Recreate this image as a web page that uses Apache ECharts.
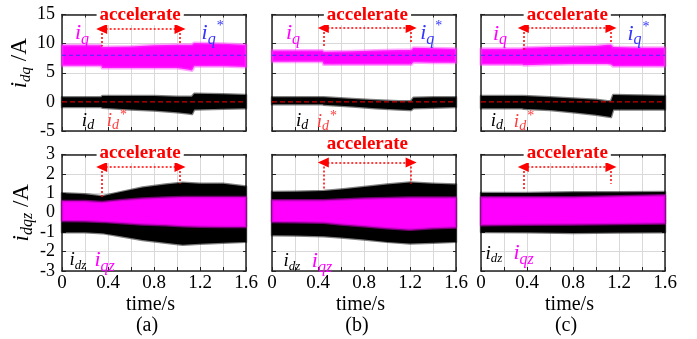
<!DOCTYPE html>
<html><head><meta charset="utf-8">
<script src="https://cdn.jsdelivr.net/npm/echarts@6/dist/echarts.min.js"></script>
<style>html,body{margin:0;padding:0;background:#fff}#c{width:697px;height:339px}</style>
</head><body><div id="c"></div>
<script>
// ================= DATA =================
const panelNames = ['(a)', '(b)', '(c)'];
const xTickLabels = ['0', '0.4', '0.8', '1.2', '1.6'];
const iqRef = 8;   // i_q* reference (A)
const idRef = 0;   // i_d* reference (A)
const accelStart = [0.345, 0.446, 0.368];
const accelEnd = [1.026, 1.21, 1.13];

// ---- top row: i_q / i_d envelopes (A) ----
const tTopA = [0, 0.34, 0.35, 0.6, 0.8, 1.0, 1.1, 1.13, 1.15, 1.4, 1.6];
const iqUpA = [9.7, 9.7, 9.4, 9.5, 9.7, 9.8, 9.8, 9.8, 10.1, 10.0, 9.8];
const iqLoA = [6.2, 6.2, 5.8, 5.8, 5.8, 5.8, 5.5, 5.4, 6.1, 6.1, 6.0];
const idUpA = [0.8, 0.8, 1.0, 1.0, 1.0, 0.9, 0.9, 0.9, 1.4, 1.3, 1.2];
const idLoA = [-0.9, -0.9, -1.0, -1.3, -1.5, -1.8, -2.0, -2.1, -1.3, -1.2, -1.1];

const tTopB = [0, 0.44, 0.45, 0.7, 0.9, 1.1, 1.2, 1.21, 1.23, 1.4, 1.6];
const iqUpB = [8.8, 8.8, 8.6, 8.7, 8.8, 8.9, 8.9, 8.9, 9.3, 9.2, 9.1];
const iqLoB = [6.9, 6.9, 6.4, 6.4, 6.4, 6.4, 6.4, 6.4, 6.8, 6.7, 6.7];
const idUpB = [0.8, 0.8, 0.8, 0.5, 0.3, 0.1, 0.1, 0.1, 0.7, 0.8, 0.8];
const idLoB = [-0.4, -0.4, -0.5, -0.8, -1.1, -1.3, -1.4, -1.4, -1.1, -1.0, -0.9];

const tTopC = [0, 0.36, 0.37, 0.6, 0.8, 1.0, 1.1, 1.13, 1.15, 1.4, 1.6];
const iqUpC = [9.1, 9.1, 9.3, 9.4, 9.5, 9.6, 9.8, 9.8, 9.4, 9.3, 9.3];
const iqLoC = [6.4, 6.4, 6.3, 6.4, 6.5, 6.5, 6.5, 6.4, 6.1, 6.1, 6.1];
const idUpC = [1.0, 1.0, 1.0, 0.8, 0.6, 0.35, 0.1, 0.1, 1.2, 1.1, 1.0];
const idLoC = [-1.1, -1.1, -1.2, -1.4, -1.8, -2.2, -2.5, -2.6, -1.3, -1.3, -1.3];

// ---- bottom row: i_dz / i_qz envelopes (A) ----
const tBotA = [0, 0.2, 0.35, 0.5, 0.7, 0.9, 1.05, 1.2, 1.4, 1.6];
const idzUpA = [1.0, 0.95, 0.85, 1.05, 1.3, 1.45, 1.55, 1.5, 1.5, 1.35];
const idzLoA = [-1.0, -1.0, -1.05, -1.2, -1.4, -1.55, -1.65, -1.6, -1.55, -1.5];
const iqzUpA = [0.6, 0.6, 0.56, 0.65, 0.73, 0.78, 0.81, 0.81, 0.81, 0.81];
const iqzLoA = [-0.42, -0.44, -0.47, -0.53, -0.6, -0.65, -0.7, -0.72, -0.73, -0.73];

const tBotB = [0, 0.2, 0.45, 0.6, 0.8, 1.0, 1.2, 1.4, 1.6];
const idzUpB = [1.07, 1.08, 1.12, 1.2, 1.33, 1.45, 1.56, 1.5, 1.45];
const idzLoB = [-1.16, -1.17, -1.21, -1.28, -1.38, -1.5, -1.59, -1.55, -1.5];
const iqzUpB = [0.64, 0.64, 0.64, 0.68, 0.73, 0.76, 0.78, 0.78, 0.78];
const iqzLoB = [-0.47, -0.49, -0.52, -0.6, -0.7, -0.8, -0.87, -0.8, -0.76];

const tBotC = [0, 0.4, 0.8, 1.2, 1.6];
const idzUpC = [1.02, 1.02, 1.05, 1.06, 1.07];
const idzLoC = [-0.99, -1.0, -1.04, -1.02, -1.0];
const iqzUpC = [0.8, 0.8, 0.8, 0.85, 0.9];
const iqzLoC = [-0.64, -0.62, -0.6, -0.58, -0.56];

// ================= LAYOUT / STYLE =================
const F = "'Liberation Serif','Times New Roman',serif";
const MAG = '#ff00ff', BLUE = '#3434ff', RED = '#ff0000', RED2 = '#ff3a3a';
const gridLeft = [62, 272, 481];
const rowTop = [14.5, 154.5];
const GW = 184, GH = 116.5;

const tTop = [tTopA, tTopB, tTopC];
const iqUp = [iqUpA, iqUpB, iqUpC], iqLo = [iqLoA, iqLoB, iqLoC];
const idUp = [idUpA, idUpB, idUpC], idLo = [idLoA, idLoB, idLoC];
const tBot = [tBotA, tBotB, tBotC];
const idzUp = [idzUpA, idzUpB, idzUpC], idzLo = [idzLoA, idzLoB, idzLoC];
const iqzUp = [iqzUpA, iqzUpB, iqzUpC], iqzLo = [iqzLoA, iqzLoB, iqzLoC];

// annotation placement (data coordinates of each panel)
const accelTextX = [0.68, 0.83, 0.75];
const arrowYTop = [12.5, 12.7, 12.7];
const vEndTop = [[9.5, 9.8], [9.3, 10.1], [8.7, 10.1]];
const arrowYBot = [2.36, 2.59, 2.36];
const vEndBot = [[0.81, 1.5], [1.16, 1.5], [1.16, 1.5]];
const accelOffBot = [-1, -10, -1];
const iqPos = [[0.174, 12.8], [0.183, 12.8], [0.165, 12.65]];
const iqStarPos = [[1.31, 12.8], [1.385, 12.8], [1.37, 12.65]];
const idPos = [[0.226, -2.3], [0.261, -2.3], [0.139, -2.3]];
const idStarPos = [[0.478, -2.3], [0.478, -2.45], [0.374, -2.45]];
const idzPos = [[0.139, -2.15], [0.174, -2.2], [0.113, -1.8]];
const iqzPos = [[0.37, -2.15], [0.435, -2.2], [0.37, -1.8]];

function richSet(color, m, s) {
  return {
    m: {fontFamily: F, fontStyle: 'italic', fontSize: m, lineHeight: m, color, verticalAlign: 'top', padding: [6, 0, 0, 0]},
    s: {fontFamily: F, fontStyle: 'italic', fontSize: s, lineHeight: s, color, verticalAlign: 'top', padding: [Math.round(6 + 0.75 * m - s / 2), 0, 0, 0]},
    p: {fontFamily: F, fontSize: 14, lineHeight: 14, color, verticalAlign: 'top', padding: [3, 0, 0, 1]}
  };
}
function lbl(coord, formatter, rich, offset) {
  return {coord, symbolSize: 0, itemStyle: {color: 'transparent'},
    label: {show: true, position: 'inside', formatter, rich, offset: offset || [0, 0]}};
}
function accelLbl(coord, offset) {
  return {coord, symbolSize: 0, itemStyle: {color: 'transparent'},
    label: {show: true, position: 'inside', formatter: 'accelerate', fontFamily: F, fontWeight: 'bold',
      fontSize: 19, color: RED, backgroundColor: '#fff', padding: [0, 3, 0, 3], offset: offset || [0, 0]}};
}

function bandSeries(g, t, lo, up, color, fringe, fw, z) {
  return {
    type: 'custom', xAxisIndex: 2 * g, yAxisIndex: 2 * g, z, silent: true,
    data: t.map((x, i) => [x, lo[i], up[i]]),
    encode: {x: 0, y: [1, 2]},
    renderItem(params, api) {
      if (params.dataIndex !== 0) return null;
      const pts = [];
      for (let i = 0; i < t.length; i++) pts.push(api.coord([t[i], up[i]]));
      for (let i = t.length - 1; i >= 0; i--) pts.push(api.coord([t[i], lo[i]]));
      return {type: 'polygon', shape: {points: pts}, style: {fill: color, stroke: fringe, lineWidth: fw, lineJoin: 'round'}};
    }
  };
}

const grids = [], xAxes = [], yAxes = [], series = [];
for (let g = 0; g < 6; g++) {
  const r = g < 3 ? 0 : 1, c = g % 3;
  grids.push({left: gridLeft[c], top: rowTop[r], width: GW, height: GH, show: false});
  const frameLine = {show: true, onZero: false, lineStyle: {color: '#222', width: 1.5}};
  xAxes.push({
    gridIndex: g, type: 'value', position: 'bottom', min: 0, max: 1.6, interval: 0.2,
    axisLine: frameLine,
    axisTick: {show: true, inside: true, length: 4, lineStyle: {color: '#222'}},
    splitLine: {show: true, lineStyle: {color: '#d9d9d9', width: 1}},
    axisLabel: {show: r === 1, margin: 3, fontSize: 19, color: '#000', fontFamily: F,
      formatter: v => { const s = String(+v.toFixed(1)); return xTickLabels.includes(s) ? s : ''; }},
    name: r === 1 ? '{t|time/s}\n{p|' + panelNames[c] + '}' : '',
    nameLocation: 'middle', nameGap: 23,
    nameTextStyle: {rich: {
      t: {fontFamily: F, fontSize: 20, lineHeight: 21, color: '#000', padding: [0, 7, 0, 0]},
      p: {fontFamily: F, fontSize: 20, lineHeight: 21, color: '#000', padding: [0, 14, 0, 0]}
    }}
  });
  xAxes.push({
    gridIndex: g, type: 'value', position: 'top', min: 0, max: 1.6, interval: 0.2,
    axisLine: frameLine, axisTick: {show: true, inside: true, length: 3, lineStyle: {color: '#222'}},
    axisLabel: {show: false}, splitLine: {show: false}
  });
  const yr = r === 0 ? {min: -5, max: 15, interval: 5} : {min: -3, max: 3, interval: 1};
  yAxes.push(Object.assign({
    gridIndex: g, type: 'value', position: 'left',
    axisLine: frameLine,
    axisTick: {show: true, inside: true, length: 4, lineStyle: {color: '#222'}},
    splitLine: {show: true, lineStyle: {color: '#d9d9d9', width: 1}},
    axisLabel: {show: c === 0, margin: 7, fontSize: 18, color: '#000', fontFamily: F},
    name: c === 0 ? (r === 0 ? '{m|i}{s|dq}{n| /A}' : '{m|i}{s|dqz}{n| /A}') : '',
    nameLocation: 'middle', nameRotate: 90, nameGap: 29,
    nameTextStyle: {padding: r === 0 ? [0, 0, 0, 19] : [0, 0, 0, 0], rich: {
      m: {fontFamily: F, fontStyle: 'italic', fontSize: 23, lineHeight: 23, color: '#000', verticalAlign: 'top'},
      s: {fontFamily: F, fontStyle: 'italic', fontSize: r === 0 ? 15 : 16, lineHeight: 16, color: '#000', verticalAlign: 'top', padding: [10, 0, 0, 0]},
      n: {fontFamily: F, fontSize: 23, lineHeight: 23, color: '#000', verticalAlign: 'top'}
    }}
  }, yr));
  yAxes.push(Object.assign({
    gridIndex: g, type: 'value', position: 'right',
    axisLine: frameLine, axisTick: {show: true, inside: true, length: 3, lineStyle: {color: '#222'}},
    axisLabel: {show: false}, splitLine: {show: false}
  }, yr));

  // ---- data series ----
  const xi = 2 * g, yi = 2 * g;
  let annoPoints, annoLines;
  const s0 = accelStart[c], e0 = accelEnd[c];
  const lineCfg = (ay, v0, v1) => [
    [{coord: [s0, ay], symbol: 'triangle', symbolSize: [10, 11]}, {coord: [e0, ay], symbol: 'triangle', symbolSize: [10, 11]}],
    [{coord: [s0, ay]}, {coord: [s0, v0]}],
    [{coord: [e0, ay]}, {coord: [e0, v1]}]
  ];
  if (r === 0) {
    series.push(bandSeries(g, tTop[c], iqLo[c], iqUp[c], MAG, 'rgba(255,60,255,0.45)', 3, 2));
    series.push({type: 'line', xAxisIndex: xi, yAxisIndex: yi, z: 3, silent: true, symbol: 'none',
      data: [[0, iqRef], [1.6, iqRef]], lineStyle: {color: BLUE, width: 1, type: [4, 3]}});
    series.push(bandSeries(g, tTop[c], idLo[c], idUp[c], '#000', 'rgba(0,0,0,0.5)', 2.5, 4));
    series.push({type: 'line', xAxisIndex: xi, yAxisIndex: yi, z: 5, silent: true, symbol: 'none',
      data: [[0, idRef], [1.6, idRef]], lineStyle: {color: RED, width: 1, type: [5, 3]}});
    annoLines = lineCfg(arrowYTop[c], vEndTop[c][0], vEndTop[c][1]);
    annoPoints = [
      accelLbl([accelTextX[c], 15], [0, 1]),
      lbl(iqPos[c], '{m|i}{s|q}', richSet(MAG, 22, 16)),
      lbl(iqStarPos[c], '{m|i}{s|q}{p|*}', richSet(BLUE, 22, 16)),
      lbl(idPos[c], '{m|i}{s|d}', richSet('#000', 19, 14)),
      lbl(idStarPos[c], '{m|i}{s|d}{p|*}', richSet(RED2, 19, 14))
    ];
  } else {
    series.push(bandSeries(g, tBot[c], idzLo[c], idzUp[c], '#000', 'rgba(0,0,0,0.5)', 2.5, 2));
    series.push(bandSeries(g, tBot[c], iqzLo[c], iqzUp[c], MAG, 'rgba(190,0,190,0.6)', 2.5, 3));
    annoLines = lineCfg(arrowYBot[c], vEndBot[c][0], vEndBot[c][1]);
    annoPoints = [
      accelLbl([accelTextX[c], 3], [0, accelOffBot[c]]),
      lbl(idzPos[c], '{m|i}{s|dz}', richSet('#000', 19, 13)),
      lbl(iqzPos[c], '{m|i}{s|qz}', richSet(MAG, 22, 16))
    ];
  }
  series.push({
    type: 'line', xAxisIndex: xi, yAxisIndex: yi, z: 6, silent: true, data: [],
    markLine: {silent: true, symbol: 'none', animation: false, label: {show: false},
      lineStyle: {color: RED, type: [2, 2], width: 1.5}, emphasis: {disabled: true}, data: annoLines},
    markPoint: {silent: true, symbol: 'circle', symbolSize: 0, animation: false, data: annoPoints}
  });
}

const chart = echarts.init(document.getElementById('c'), null, {renderer: 'canvas'});
chart.setOption({
  backgroundColor: '#fff', animation: false, textStyle: {fontFamily: F},
  grid: grids, xAxis: xAxes, yAxis: yAxes, series
});
</script></body></html>
